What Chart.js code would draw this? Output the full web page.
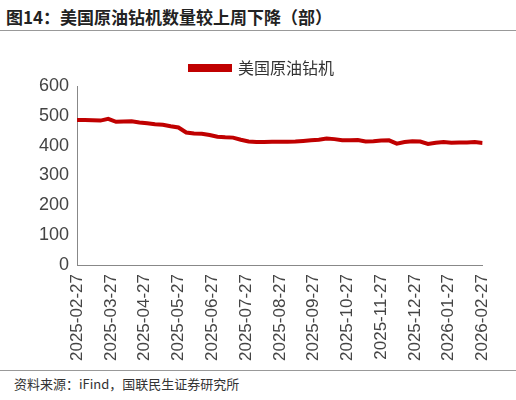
<!DOCTYPE html>
<html><head><meta charset="utf-8">
<script src="https://cdn.jsdelivr.net/npm/chart.js@4"></script>
<style>
body{margin:0;width:516px;height:400px;background:#fff;font-family:"Noto Sans CJK SC",sans-serif;position:relative;overflow:hidden}
#title{position:absolute;left:6px;top:4px;font-size:17px;font-weight:bold;color:#222}
#topline{position:absolute;left:0;right:0;top:30px;border-top:1px solid #999}
#botline{position:absolute;left:0;right:0;top:370px;border-top:1px solid #999}
#src{position:absolute;left:14px;top:374px;font-size:13px;color:#333}
#wrap{position:absolute;left:36px;top:44px;width:470px;height:320px}
</style></head><body>
<div id="title">图14：美国原油钻机数量较上周下降（部）</div>
<div id="topline"></div>
<div id="wrap"><canvas id="c"></canvas></div>
<div id="botline"></div>
<div id="src">资料来源：iFind，国联民生证券研究所</div>
<script>
// monthly tick labels
const monthLabels = ["2025-02-27","2025-03-27","2025-04-27","2025-05-27","2025-06-27","2025-07-27","2025-08-27","2025-09-27","2025-10-27","2025-11-27","2025-12-27","2026-01-27","2026-02-27"];
// weekly rig counts
const rigCounts = [486,486,485,484,490,480,481,482,478,475,472,470,465,461,444,441,440,436,430,428,427,420,414,412,412,413,413,413,414,416,418,420,424,422,418,418,419,414,415,417,418,407,412,415,414,406,410,412,410,411,411,412,409];
const seriesName = "美国原油钻机";

const points = rigCounts.map((v, i) => ({x: i, y: v}));
const step = (rigCounts.length - 1) / (monthLabels.length - 1);

new Chart(document.getElementById("c"), {
  type: "line",
  data: {datasets: [{label: seriesName, data: points, borderColor: "#c00000", backgroundColor: "#c00000", borderWidth: 4, pointRadius: 0, tension: 0}]},
  options: {
    responsive: true, maintainAspectRatio: false, animation: false,
    layout: {padding: {right: 18}},
    plugins: {legend: {labels: {boxWidth: 40, boxHeight: 4, padding: 16, font: {size: 16, family: "Noto Sans CJK SC"}, color: "#333"}}},
    scales: {
      x: {type: "linear", min: 0, max: rigCounts.length - 1,
        grid: {display: false, drawTicks: true, tickLength: 6, color: "#888"},
        border: {color: "#888"},
        afterBuildTicks: ax => { ax.ticks = monthLabels.map((l, i) => ({value: i * step})); },
        ticks: {maxRotation: 90, minRotation: 90, color: "#444", font: {size: 17, family: "Liberation Sans"},
          callback: (v, i) => monthLabels[i]}},
      y: {min: 0, max: 600,
        grid: {display: false, drawTicks: true, tickLength: 5, color: "#888"},
        border: {color: "#888"},
        ticks: {stepSize: 100, color: "#444", font: {size: 18, family: "Liberation Sans"}}}
    }
  }
});
</script></body></html>
